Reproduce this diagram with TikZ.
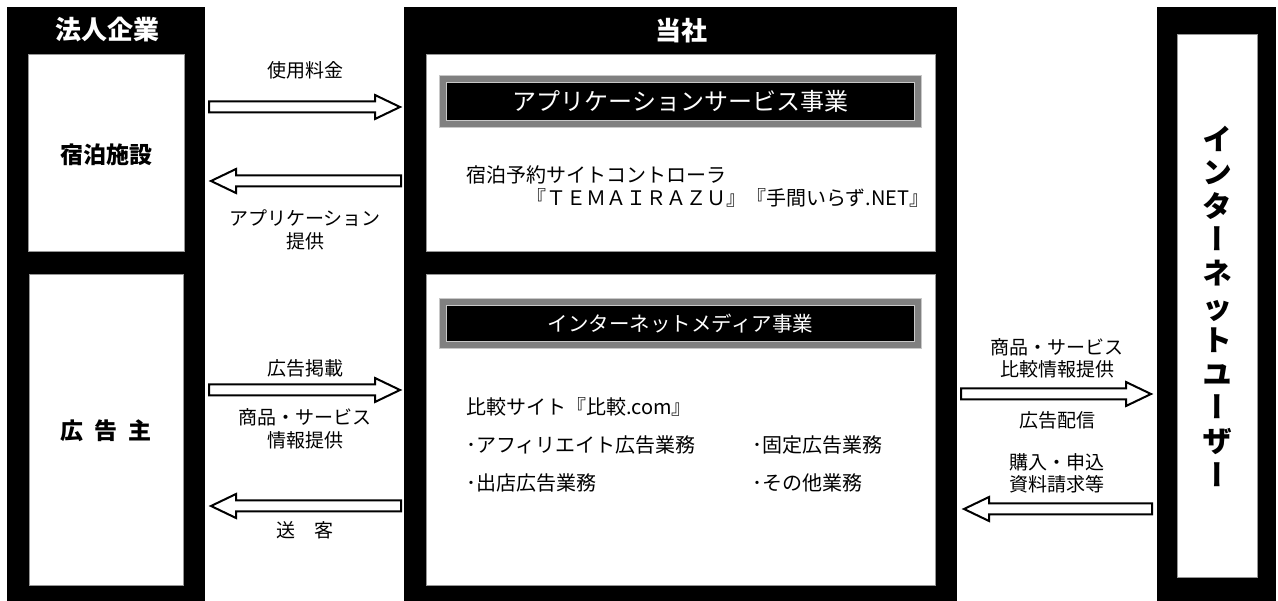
\documentclass[tikz,border=0pt]{standalone}
\usepackage{fontspec}
\setmainfont{Noto Sans CJK JP}
\newfontfamily\vertfont{Noto Sans CJK JP}[RawFeature=+vert]
\newfontfamily\horzfont{Noto Sans CJK JP}
\usetikzlibrary{calc}
\definecolor{bandgray}{RGB}{128,128,128}
\definecolor{linegray}{RGB}{200,200,200}
\definecolor{edgegray}{RGB}{150,150,150}
\tikzset{
  blackbox/.style={fill=black, draw=none, inner sep=0pt, outer sep=0pt, anchor=north west},
  whitebox/.style={fill=white, draw=edgegray, line width=0.8pt, inner sep=0pt, outer sep=0pt, anchor=north west},
  headerbar/.style={draw=linegray, line width=1pt, double=bandgray, double distance=6pt, fill=black,
    text=white, inner sep=0pt, minimum width=475pt, font=\fontsize{24}{28}\selectfont},
  titletext/.style={text=white, inner sep=0pt, font=\bfseries\fontsize{26}{30}\selectfont},
  boxtext/.style={inner sep=0pt, font=\bfseries\fontsize{23}{27}\selectfont},
  lab/.style={inner sep=0pt, align=center, font=\fontsize{19}{22.5}\selectfont},
  body/.style={inner sep=0pt, anchor=west, font=\fontsize{20}{24}\selectfont},
  blockarrow/.style={draw=black, fill=white, line width=2pt, line join=miter},
}
\newcommand\myrarrow[2]{\draw[blockarrow] ($(#1)+(0,-5.5)$) -- ($(#2)+(-25,-5.5)$) -- ($(#2)+(-25,-12)$) -- (#2) -- ($(#2)+(-25,12)$) -- ($(#2)+(-25,5.5)$) -- ($(#1)+(0,5.5)$) -- cycle;}
\newcommand\mylarrow[2]{\draw[blockarrow] ($(#1)+(0,-5.5)$) -- ($(#2)+(25,-5.5)$) -- ($(#2)+(25,-12)$) -- (#2) -- ($(#2)+(25,12)$) -- ($(#2)+(25,5.5)$) -- ($(#1)+(0,5.5)$) -- cycle;}
\begin{document}
\begin{tikzpicture}[x=1pt,y=-1pt]
\useasboundingbox (0,0) rectangle (1278,601);
\fill[white] (0,0) rectangle (1278,601);
% left column
\node[blackbox, minimum width=198pt, minimum height=594pt] (corp) at (7,7) {};
\node[whitebox, minimum width=156pt, minimum height=197pt] (hotel) at (28,54) {};
\node[whitebox, minimum width=154pt, minimum height=311pt] (adv) at (29,274) {};
\node[titletext] (corptitle) at (107,30) {法人企業};
\node[boxtext] (hoteltext) at (106,155) {宿泊施設};
\node[boxtext] (advtext) at (106,431) {広\hspace{11pt}告\hspace{11pt}主};
% centre column
\node[blackbox, minimum width=553pt, minimum height=594pt] (company) at (404,7) {};
\node[whitebox, minimum width=509pt, minimum height=197pt] (appsvc) at (426,54) {};
\node[whitebox, minimum width=509pt, minimum height=311pt] (media) at (426,274) {};
\node[titletext] (comptitle) at (681,31) {当社};
\node[headerbar, minimum height=45pt] (appbar) at (680.5,101.5) {アプリケーションサービス事業};
\node[headerbar, minimum height=43pt, font=\fontsize{20.5}{24}\selectfont] (mediabar) at (680.5,323.5) {インターネットメディア事業};
\node[body] (sv1) at (466,175) {宿泊予約サイトコントローラ};
\node[body] (sv2) at (526,198) {『ＴＥＭＡＩＲＡＺＵ』『手間いらず.NET』};
\node[body] (md1) at (466,407) {比較サイト『比較.com』};
\node[body] (md2) at (466,445) {･アフィリエイト広告業務};
\node[body] (md3) at (466,483) {･出店広告業務};
\node[body] (md4) at (752,445) {･固定広告業務};
\node[body] (md5) at (752,483) {･その他業務};
% right column
\node[blackbox, minimum width=119pt, minimum height=594pt] (users) at (1157,7) {};
\node[whitebox, minimum width=80pt, minimum height=543pt] (usersin) at (1177,34) {};
\node[inner sep=0pt, align=center, font=\vertfont\bfseries\fontsize{30}{33.6}\selectfont] (userstext) at (1217,306)
  {イ\\ン\\タ\\ー\\ネ\\{\horzfont\bfseries ッ}\\ト\\ユ\\ー\\ザ\\ー};
% arrow end points
\coordinate (a1t) at (209,107); \coordinate (a1h) at (400,107);
\coordinate (a2t) at (401,181); \coordinate (a2h) at (211,181);
\coordinate (a3t) at (209,390); \coordinate (a3h) at (400,390);
\coordinate (a4t) at (401,506); \coordinate (a4h) at (211,506);
\coordinate (a5t) at (961,394); \coordinate (a5h) at (1151,394);
\coordinate (a6t) at (1152,509); \coordinate (a6h) at (964,509);
\myrarrow{a1t}{a1h}
\mylarrow{a2t}{a2h}
\myrarrow{a3t}{a3h}
\mylarrow{a4t}{a4h}
\myrarrow{a5t}{a5h}
\mylarrow{a6t}{a6h}
% arrow labels
\node[lab] (l1) at (305,70) {使用料金};
\node[lab] (l2) at (305,230) {アプリケーション\\提供};
\node[lab] (l3) at (305,368) {広告掲載};
\node[lab] (l4) at (305,429) {商品・サービス\\情報提供};
\node[lab] (l5) at (305,530) {送　客};
\node[lab] (l6) at (1057,358.5) {商品・サービス\\比較情報提供};
\node[lab] (l7) at (1057,420) {広告配信};
\node[lab] (l8) at (1057,473.5) {購入・申込\\資料請求等};
\end{tikzpicture}
\end{document}
